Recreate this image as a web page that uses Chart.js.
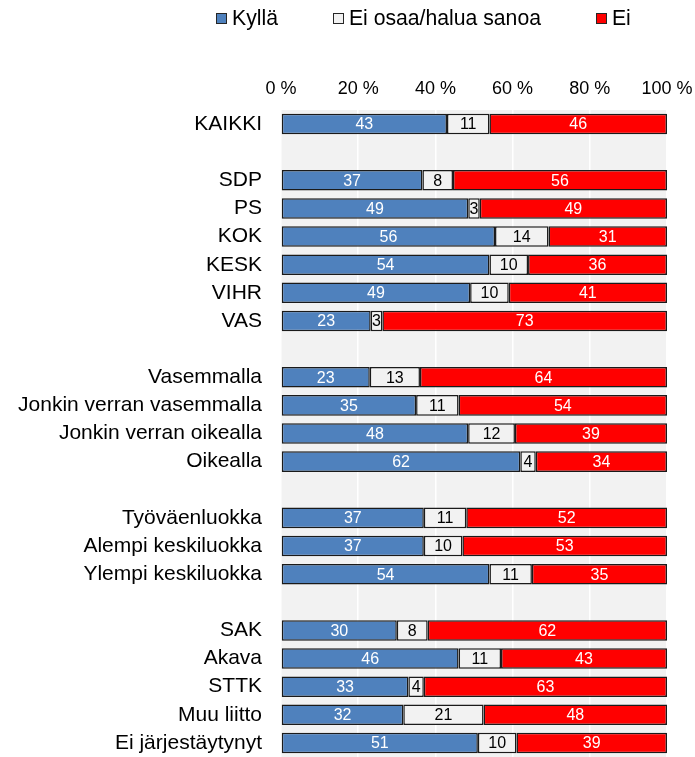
<!DOCTYPE html>
<html>
<head>
<meta charset="utf-8">
<script src="https://cdn.jsdelivr.net/npm/chart.js@4"></script>
<style>
  html, body { margin: 0; padding: 0; background: #fff; }
  #wrap { position: relative; width: 695px; height: 757px; overflow: hidden; }
  #legend {
    position: absolute; top: 6px; left: 216px;
    display: flex; gap: 55px;
    font-family: "Liberation Sans", Arial, sans-serif; font-size: 21.2px; color: #000;
  }
  #legend .item { display: flex; align-items: center; }
  #legend .box { width: 9px; height: 9px; border: 1px solid #262626; margin-right: 5px; }
</style>
</head>
<body>
<div id="wrap">
  <canvas id="bar-chart" width="695" height="757"></canvas>
  <div id="legend"></div>
</div>
<script>
var categories = [
    "KAIKKI", "",
    "SDP", "PS", "KOK", "KESK", "VIHR", "VAS", "",
    "Vasemmalla", "Jonkin verran vasemmalla", "Jonkin verran oikealla", "Oikealla", "",
    "Työväenluokka", "Alempi keskiluokka", "Ylempi keskiluokka", "",
    "SAK", "Akava", "STTK", "Muu liitto", "Ei järjestäytynyt"
];
var kylla = [43, null, 37, 49, 56, 54, 49, 23, null, 23, 35, 48, 62, null, 37, 37, 54, null, 30, 46, 33, 32, 51];
var eos   = [11, null, 8, 3, 14, 10, 10, 3, null, 13, 11, 12, 4, null, 11, 10, 11, null, 8, 11, 4, 21, 10];
var ei    = [46, null, 56, 49, 31, 36, 41, 73, null, 64, 54, 39, 34, null, 52, 53, 35, null, 62, 43, 63, 48, 39];
var seriesNames = ["Kyllä", "Ei osaa/halua sanoa", "Ei"];
var barColors = ["#4f81bd", "#f2f2f2", "#ff0000"];
var labelColors = ["#ffffff", "#000000", "#ffffff"];
var tickValues = [0, 20, 40, 60, 80, 100];

var FONT = "'Liberation Sans', Arial, sans-serif";
var series = [kylla, eos, ei];

// 100 % stacked: each row is scaled to its own total, labels keep the printed value
var rowTotals = categories.map(function (c, j) {
    return series.reduce(function (s, arr) { return s + (arr[j] || 0); }, 0);
});

// legend
var legendEl = document.getElementById("legend");
seriesNames.forEach(function (name, i) {
    var item = document.createElement("div");
    item.className = "item";
    var box = document.createElement("span");
    box.className = "box";
    box.style.background = barColors[i];
    var txt = document.createElement("span");
    txt.textContent = name;
    item.appendChild(box);
    item.appendChild(txt);
    legendEl.appendChild(item);
});

// grey plot background
var plotBackground = {
    id: "plotBackground",
    beforeDraw: function (chart) {
        var a = chart.chartArea;
        var ctx = chart.ctx;
        ctx.save();
        ctx.fillStyle = "#f2f2f2";
        ctx.fillRect(a.left, a.top, a.right - a.left, a.bottom - a.top);
        ctx.restore();
    }
};

// values inside the bars
var barValues = {
    id: "barValues",
    afterDatasetsDraw: function (chart) {
        var ctx = chart.ctx;
        ctx.save();
        ctx.font = "16px " + FONT;
        ctx.textAlign = "center";
        ctx.textBaseline = "middle";
        chart.data.datasets.forEach(function (ds, i) {
            var meta = chart.getDatasetMeta(i);
            meta.data.forEach(function (bar, j) {
                var v = series[i][j];
                if (v == null) return;
                ctx.fillStyle = labelColors[i];
                ctx.fillText(String(v), (bar.x + bar.base) / 2, bar.y + 1);
            });
        });
        ctx.restore();
    }
};

var datasets = series.map(function (values, i) {
    return {
        label: seriesNames[i],
        data: values.map(function (v, j) {
            return v == null ? null : v / rowTotals[j] * 100;
        }),
        backgroundColor: barColors[i],
        borderColor: "#1a1a1a",
        borderWidth: 1.5,
        borderSkipped: false,
        barPercentage: 0.73,
        categoryPercentage: 1.0
    };
});

new Chart("bar-chart", {
    type: "bar",
    data: {
        labels: categories,
        datasets: datasets
    },
    options: {
        indexAxis: "y",
        responsive: false,
        animation: false,
        layout: { padding: { left: 0, right: 28, top: 0, bottom: 0 } },
        plugins: {
            legend: { display: false },
            tooltip: { enabled: false }
        },
        scales: {
            x: {
                stacked: true,
                position: "top",
                min: 0,
                max: 100,
                afterFit: function (scale) {
                    scale.height = 110;
                    scale.paddingLeft = 0;
                    scale.paddingRight = 0;
                },
                afterBuildTicks: function (scale) {
                    scale.ticks = tickValues.map(function (v) { return { value: v }; });
                },
                ticks: {
                    padding: 10,
                    color: "#000",
                    font: { family: FONT, size: 18 },
                    callback: function (v) { return v + " %"; }
                },
                grid: { color: "#ffffff", lineWidth: 1.5, drawTicks: false },
                border: { display: false }
            },
            y: {
                stacked: true,
                afterFit: function (scale) {
                    scale.width = 281;
                    scale.paddingTop = 0;
                    scale.paddingBottom = 0;
                },
                ticks: {
                    padding: 19,
                    color: "#000",
                    autoSkip: false,
                    font: { family: FONT, size: 21 }
                },
                grid: { display: false, drawTicks: false },
                border: { display: false }
            }
        }
    },
    plugins: [plotBackground, barValues]
});
</script>
</body>
</html>
